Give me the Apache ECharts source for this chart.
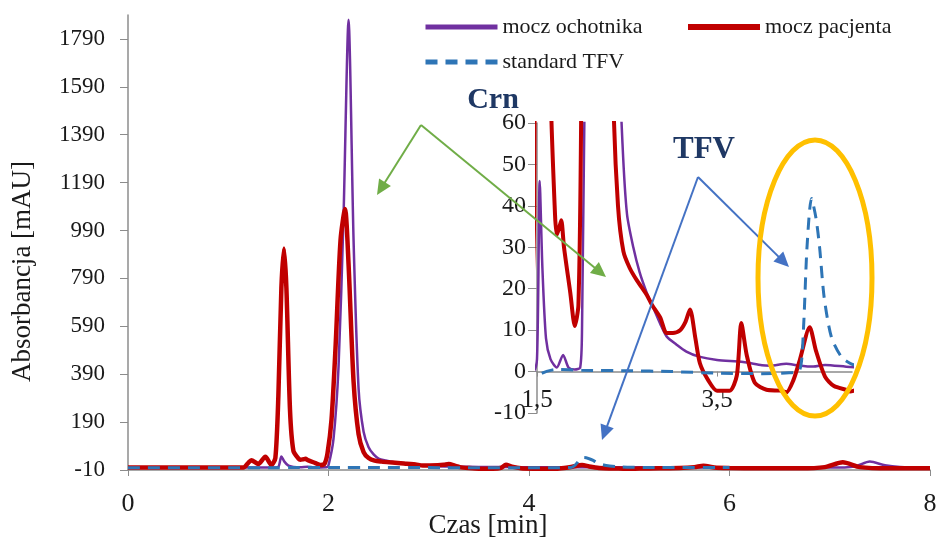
<!DOCTYPE html>
<html>
<head>
<meta charset="utf-8">
<script src="https://cdn.jsdelivr.net/npm/echarts@6/dist/echarts.min.js"></script>
<style>
html,body{margin:0;padding:0;background:#fff;}
#chart{width:938px;height:537px;}
</style>
</head>
<body>
<div id="chart"></div>
<script>
// ---- data (time [min], absorbance [mAU]) ----
const mainXTicks = [0, 2, 4, 6, 8];
const mainYTicks = [-10, 190, 390, 590, 790, 990, 1190, 1390, 1590, 1790];
const insetXTicks = [1.5, 3.5];
const insetYTicks = [-10, 0, 10, 20, 30, 40, 50, 60];

const seriesNames = ['mocz ochotnika', 'mocz pacjenta', 'standard TFV'];

const moczOchotnika = [
  [0,0],[1.45,0],[1.5,3],[1.53,46],[1.56,25],[1.6,8],[1.65,3],[1.72,1],[1.79,4],[1.85,1],
  [1.92,0.5],[1.98,1],[2.0,10],[2.05,120],[2.1,420],[2.15,1050],[2.2,1870],[2.25,950],
  [2.3,330],[2.35,150],[2.4,85],[2.45,55],[2.5,38],[2.57,30],[2.64,24],[2.72,19],[2.8,15],
  [2.87,11.5],[2.94,8.5],[3.05,6.5],[3.16,4.8],[3.3,3.6],[3.5,2.8],[3.79,2.3],[4.0,1.5],
  [4.09,1.4],[4.27,1.9],[4.4,1.5],[4.57,1.2],[4.7,1.6],[4.98,1.1],[5.3,1],[6.0,0.5],
  [7.0,0],[7.25,5],[7.4,25],[7.55,10],[7.7,3],[8.0,0]
];

const moczPacjenta = [
  [0,0],[1.15,0],[1.2,20],[1.23,31],[1.3,15],[1.37,45],[1.43,11],[1.47,40],[1.5,300],
  [1.53,750],[1.556,915],[1.58,750],[1.616,240],[1.65,70],[1.7,38],[1.72,33],[1.75,35],
  [1.77,36.5],[1.8,30],[1.87,19],[1.92,11],[1.96,16],[1.99,60],[2.03,200],[2.07,500],
  [2.12,950],[2.165,1080],[2.2,850],[2.25,360],[2.3,140],[2.35,65],[2.4,40],[2.46,29],
  [2.53,25],[2.61,22],[2.72,18.5],[2.78,16],[2.87,13],[2.94,9.3],[3.01,9.3],[3.09,10],
  [3.15,12],[3.2,15],[3.26,8],[3.31,2],[3.4,-2],[3.5,-4.6],[3.64,-4.6],[3.72,-1],
  [3.77,11.7],[3.83,4],[3.92,-2.7],[4.05,-4.4],[4.2,-4.6],[4.27,-5],[4.35,-2],[4.42,2.8],
  [4.53,10.7],[4.6,5],[4.7,-1.2],[4.8,-3.5],[4.94,-4.4],[4.98,-4.8],[5.1,-4],[5.3,-3],
  [5.5,-2],[5.65,2],[5.74,8],[5.85,0],[6.0,-2],[6.3,-3],[6.7,-3],[6.95,2],[7.13,22],
  [7.3,2],[7.6,-3],[8.0,-3]
];

const standardTFV = [
  [0,-1],[1.5,-0.8],[1.6,0],[1.7,0.5],[2.0,0.3],[2.5,0.2],[3.0,0],[3.5,-0.4],[4.0,-0.5],
  [4.3,-0.3],[4.42,0.4],[4.46,10],[4.5,30],[4.55,41.8],[4.6,37],[4.64,30],[4.69,18],
  [4.77,8.4],[4.88,3.6],[4.98,2],[5.2,0.5],[6.0,0]
];

// ---- styles ----
const FONT = '"Liberation Serif", "Times New Roman", serif';
const C_PURPLE = '#7030A0', C_RED = '#C00000', C_BLUE = '#2E75B6';
const AXIS_C = '#8c8c8c';
const TXT = '#1a1a1a';

function arrow(from, to, color) {
  const dx = to[0] - from[0], dy = to[1] - from[1];
  const L = Math.sqrt(dx*dx + dy*dy), ux = dx / L, uy = dy / L;
  const hl = 15, hw = 7;
  const bx = to[0] - ux*hl, by = to[1] - uy*hl;
  return [
    { type: 'line', shape: { x1: from[0], y1: from[1], x2: bx + ux*2, y2: by + uy*2 },
      style: { stroke: color, lineWidth: 2 }, z: 100 },
    { type: 'polygon', shape: { points: [[to[0], to[1]], [bx - uy*hw, by + ux*hw], [bx + uy*hw, by - ux*hw]] },
      style: { fill: color }, z: 100 }
  ];
}

function lineSeries(name, data, xi, yi, color, width, dashed) {
  return {
    name: name, type: 'line', data: data, xAxisIndex: xi, yAxisIndex: yi,
    symbol: 'none', smooth: 0.25, clip: true, animation: false,
    lineStyle: { color: color, width: width, type: dashed ? [12, 8] : 'solid' },
    itemStyle: { color: color }
  };
}

const chart = echarts.init(document.getElementById('chart'), null, { renderer: 'canvas' });

const legendBase = {
  orient: 'horizontal', itemWidth: 72, itemHeight: 14, selectedMode: false, padding: 0,
  textStyle: { fontFamily: FONT, fontSize: 22, color: TXT }
};
function legendItem(name, w) {
  return { name: name, lineStyle: { width: w }, itemStyle: { opacity: 0 } };
}

const option = {
  backgroundColor: '#fff',
  animation: false,
  legend: [
    Object.assign({}, legendBase, { left: 423, top: 16, data: [legendItem(seriesNames[0], 5)] }),
    Object.assign({}, legendBase, { left: 685, top: 16, data: [legendItem(seriesNames[1], 6)] }),
    Object.assign({}, legendBase, { left: 423, top: 51, data: [legendItem(seriesNames[2], 5)] })
  ],
  grid: [
    { left: 128, top: 15, right: 8, bottom: 67, outerBoundsMode: 'none', containLabel: false },
    { left: 537, top: 123, width: 315, height: 290, outerBoundsMode: 'none', containLabel: false }
  ],
  xAxis: [
    {
      type: 'value', gridIndex: 0, min: 0, max: 8, interval: 2,
      name: 'Czas [min]', nameLocation: 'middle', nameGap: 42, nameMoveOverlap: false,
      nameTextStyle: { fontFamily: FONT, fontSize: 27, color: TXT, padding: [0, 82, 0, 0] },
      axisLine: { onZero: false, lineStyle: { color: AXIS_C, width: 1.5 } },
      axisTick: { show: true, length: 6, lineStyle: { color: AXIS_C }, customValues: mainXTicks },
      axisLabel: { fontFamily: FONT, fontSize: 26, color: TXT, margin: 21, customValues: mainXTicks,
        formatter: v => String(v) },
      splitLine: { show: false }
    },
    {
      // inset: labels only (placed near the bottom of the inset)
      type: 'value', gridIndex: 1, min: 1.5, max: 5.0, interval: 2, position: 'bottom',
      axisLine: { show: false, onZero: false },
      axisTick: { show: false },
      axisLabel: { fontFamily: FONT, fontSize: 25, color: TXT, margin: -25, customValues: insetXTicks,
        formatter: v => String(v).replace('.', ',') },
      splitLine: { show: false }
    },
    {
      // inset: axis line and ticks crossing at zero
      type: 'value', gridIndex: 1, min: 1.5, max: 5.0, interval: 2, position: 'bottom',
      axisLine: { show: true, onZero: true, lineStyle: { color: AXIS_C, width: 1.5 } },
      axisTick: { show: true, length: 5, lineStyle: { color: AXIS_C }, customValues: insetXTicks },
      axisLabel: { show: false },
      splitLine: { show: false }
    }
  ],
  yAxis: [
    {
      type: 'value', gridIndex: 0, min: -10, max: 1890, interval: 200,
      name: 'Absorbancja [mAU]', nameLocation: 'middle', nameGap: 92, nameMoveOverlap: false,
      nameTextStyle: { fontFamily: FONT, fontSize: 27, color: TXT, padding: [0, 58, 0, 0] },
      axisLine: { show: true, lineStyle: { color: AXIS_C, width: 1.5 } },
      axisTick: { show: true, length: 8, lineStyle: { color: AXIS_C }, customValues: mainYTicks },
      axisLabel: { fontFamily: FONT, fontSize: 23, color: TXT, margin: 23, customValues: mainYTicks,
        formatter: v => String(v) },
      splitLine: { show: false }
    },
    {
      type: 'value', gridIndex: 1, min: -10, max: 60, interval: 10,
      axisLine: { show: true, lineStyle: { color: AXIS_C, width: 1.5 } },
      axisTick: { show: true, length: 9, lineStyle: { color: AXIS_C }, customValues: insetYTicks },
      axisLabel: { fontFamily: FONT, fontSize: 24, color: TXT, margin: 11, customValues: insetYTicks,
        formatter: v => String(v) },
      splitLine: { show: false }
    }
  ],
  series: [
    lineSeries(seriesNames[0], moczOchotnika, 0, 0, C_PURPLE, 2.5, false),
    lineSeries(seriesNames[1], moczPacjenta, 0, 0, C_RED, 4.5, false),
    lineSeries(seriesNames[2], standardTFV, 0, 0, C_BLUE, 3, true),
    lineSeries(seriesNames[0], moczOchotnika, 1, 1, C_PURPLE, 2.5, false),
    lineSeries(seriesNames[1], moczPacjenta, 1, 1, C_RED, 4, false),
    lineSeries(seriesNames[2], standardTFV, 1, 1, C_BLUE, 3, true)
  ],
  graphic: [].concat(
    arrow([421, 125], [377, 195], '#70AD47'),
    arrow([421, 125], [606, 277], '#70AD47'),
    arrow([698, 177], [789, 267], '#4472C4'),
    arrow([698, 177], [602, 440], '#4472C4'),
    [
      { type: 'ellipse', shape: { cx: 815, cy: 278, rx: 57, ry: 138 },
        style: { stroke: '#FFC000', lineWidth: 5, fill: 'none' }, z: 100 },
      { type: 'text', x: 493, y: 100, style: { text: 'Crn', font: 'bold 30px ' + FONT, fill: '#1F3864',
        textAlign: 'center', textVerticalAlign: 'middle' }, z: 100 },
      { type: 'text', x: 704, y: 150, style: { text: 'TFV', font: 'bold 31px ' + FONT, fill: '#1F3864',
        textAlign: 'center', textVerticalAlign: 'middle' }, z: 100 }
    ]
  )
};

chart.setOption(option);
</script>
</body>
</html>
